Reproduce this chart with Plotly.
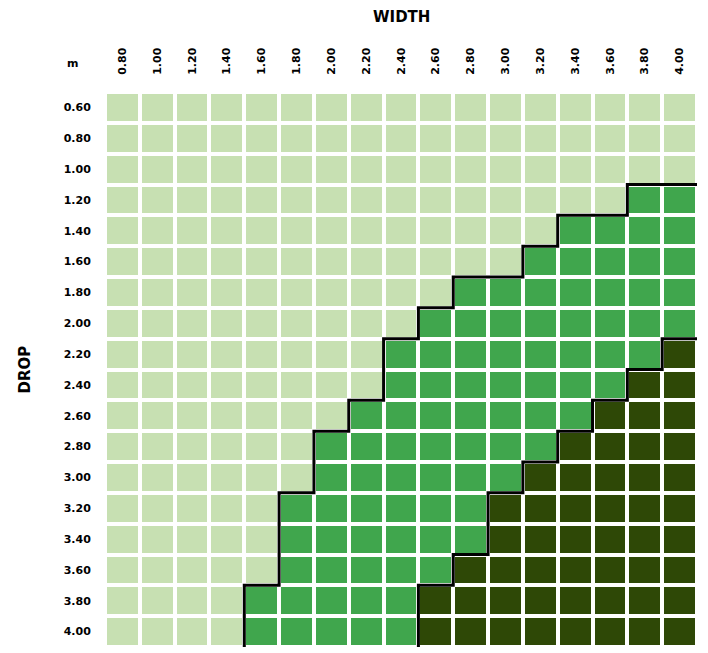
import plotly.graph_objects as go

widths = [0.80, 1.00, 1.20, 1.40, 1.60, 1.80, 2.00, 2.20, 2.40, 2.60, 2.80,
          3.00, 3.20, 3.40, 3.60, 3.80, 4.00]
drops = [0.60, 0.80, 1.00, 1.20, 1.40, 1.60, 1.80, 2.00, 2.20, 2.40, 2.60,
         2.80, 3.00, 3.20, 3.40, 3.60, 3.80, 4.00]
# drop at which the medium zone starts for each width (None = never)
medium_start = [None, None, None, None, 3.80, 3.20, 2.80, 2.60, 2.20, 2.00,
                1.80, 1.80, 1.60, 1.40, 1.40, 1.20, 1.20]
# drop at which the dark zone starts for each width (None = never)
dark_start = [None, None, None, None, None, None, None, None, None, 3.80,
              3.60, 3.20, 3.00, 2.80, 2.60, 2.40, 2.20]

LIGHT = "#c7e0b2"
MEDIUM = "#40a64d"
DARK = "#2e4806"

nx, ny = len(widths), len(drops)


def start_index(v):
    return ny if v is None else drops.index(v)


med_idx = [start_index(v) for v in medium_start]
dark_idx = [start_index(v) for v in dark_start]

z = []
for r in range(ny):
    row = []
    for c in range(nx):
        if r >= dark_idx[c]:
            row.append(2)
        elif r >= med_idx[c]:
            row.append(1)
        else:
            row.append(0)
    z.append(row)

fig = go.Figure()
fig.add_trace(go.Heatmap(
    z=z, x=list(range(nx)), y=list(range(ny)),
    zmin=0, zmax=2,
    colorscale=[[0, LIGHT], [0.5, MEDIUM], [1, DARK]],
    showscale=False, xgap=4, ygap=4, hoverinfo="skip",
))


def stair(idx):
    xs, ys = [], []
    first = True
    for c, s in enumerate(idx):
        if s >= ny:
            continue
        if first:
            xs.append(c - 0.5)
            ys.append(ny - 0.5)
            first = False
        xs += [c - 0.5, c + 0.5]
        ys += [s - 0.5, s - 0.5]
    return xs, ys


for idx in (med_idx, dark_idx):
    xs, ys = stair(idx)
    fig.add_trace(go.Scatter(x=xs, y=ys, mode="lines",
                             line=dict(color="black", width=3),
                             hoverinfo="skip", showlegend=False))

tick_font = dict(family="DejaVu Sans", size=11, color="black", weight="bold")

fig.update_xaxes(
    side="top", range=[-0.5, nx - 0.5],
    tickvals=list(range(nx)), ticktext=[f"{w:.2f}" for w in widths],
    tickangle=-90, tickfont=tick_font,
    ticks="outside", ticklen=14, tickcolor="rgba(0,0,0,0)",
    showgrid=False, zeroline=False, showline=False,
)
fig.update_yaxes(
    range=[ny - 0.5, -0.5],
    tickvals=list(range(ny)), ticktext=[f"{d:.2f}" for d in drops],
    tickfont=tick_font,
    ticks="outside", ticklen=11, tickcolor="rgba(0,0,0,0)",
    showgrid=False, zeroline=False, showline=False,
)

title_font = dict(family="DejaVu Sans", size=15, color="black", weight="bold")
fig.add_annotation(text="WIDTH", xref="paper", yref="paper", x=0.5, y=1,
                   yshift=86, showarrow=False, font=title_font)
fig.add_annotation(text="DROP", xref="paper", yref="paper", x=0, y=0.5,
                   xshift=-92, textangle=-90, showarrow=False, font=title_font)
fig.add_annotation(text="m", xref="paper", yref="paper", x=0, y=1,
                   xshift=-40, yshift=37, showarrow=False, font=tick_font)

fig.update_layout(
    width=708, height=653,
    margin=dict(l=97, r=19, t=84, b=14),
    paper_bgcolor="white", plot_bgcolor="white",
    showlegend=False,
)

fig.write_html("out.html")
